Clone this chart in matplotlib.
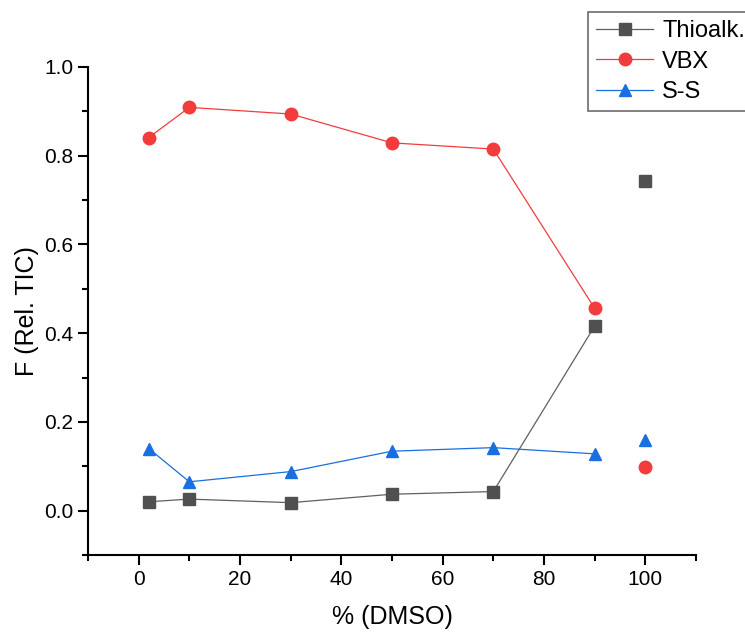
import matplotlib.pyplot as plt
from matplotlib.ticker import MultipleLocator

plt.rcParams['font.family'] = ['Liberation Sans', 'DejaVu Sans']

dmso = [2, 10, 30, 50, 70, 90]
dmso_end = [100]

thio = [0.020, 0.026, 0.018, 0.037, 0.043, 0.416]
thio_end = [0.743]
vbx = [0.841, 0.909, 0.894, 0.829, 0.815, 0.456]
vbx_end = [0.099]
ss = [0.140, 0.065, 0.088, 0.134, 0.142, 0.128]
ss_end = [0.160]

series = [
    ('Thioalk.', thio, thio_end, 's', '#505050', '#606060'),
    ('VBX', vbx, vbx_end, 'o', '#f23c3c', '#f23c3c'),
    ('S-S', ss, ss_end, '^', '#1a6fdf', '#1a6fdf'),
]

fig = plt.figure(figsize=(7.45, 6.33), dpi=100)
ax = fig.add_axes([88 / 745, 1 - 555 / 633, (696 - 88) / 745, (555 - 67) / 633])

handles = []
for name, vals, end, mk, mc, lc in series:
    h, = ax.plot(dmso, vals, '-', color=lc, lw=0.9, marker=mk, markersize=9,
                 markerfacecolor=mc, markeredgecolor=mc, label=name)
    ax.plot(dmso_end, end, linestyle='none', marker=mk, markersize=9,
            markerfacecolor=mc, markeredgecolor=mc)
    handles.append(h)

ax.set_xlim(-10, 110)
ax.set_ylim(-0.1, 1.0)
ax.xaxis.set_major_locator(MultipleLocator(20))
ax.xaxis.set_minor_locator(MultipleLocator(10))
ax.yaxis.set_major_locator(MultipleLocator(0.2))
ax.yaxis.set_minor_locator(MultipleLocator(0.1))
ax.set_xticks([0, 20, 40, 60, 80, 100])
ax.set_yticks([0.0, 0.2, 0.4, 0.6, 0.8, 1.0])
ax.set_yticklabels(['0.0', '0.2', '0.4', '0.6', '0.8', '1.0'])

for s in ['top', 'right']:
    ax.spines[s].set_visible(False)
for s in ['left', 'bottom']:
    ax.spines[s].set_linewidth(1.5)
ax.tick_params(which='major', direction='out', length=7, width=1.5, labelsize=15)
ax.tick_params(which='minor', direction='out', length=4, width=1.5)

ax.set_xlabel('% (DMSO)', fontsize=18, labelpad=12)
ax.set_ylabel('F (Rel. TIC)', fontsize=18, labelpad=4)

leg = fig.legend(handles=handles, loc='upper left', bbox_to_anchor=(588 / 745, 1 - 12 / 633),
                 fontsize=17, frameon=True, fancybox=False, handlelength=2.4,
                 borderaxespad=0, labelspacing=0.35, handletextpad=0.4, borderpad=0.35)
leg.get_frame().set_edgecolor('#555555')
leg.get_frame().set_linewidth(1.3)

fig.savefig('out.png', dpi=100)
